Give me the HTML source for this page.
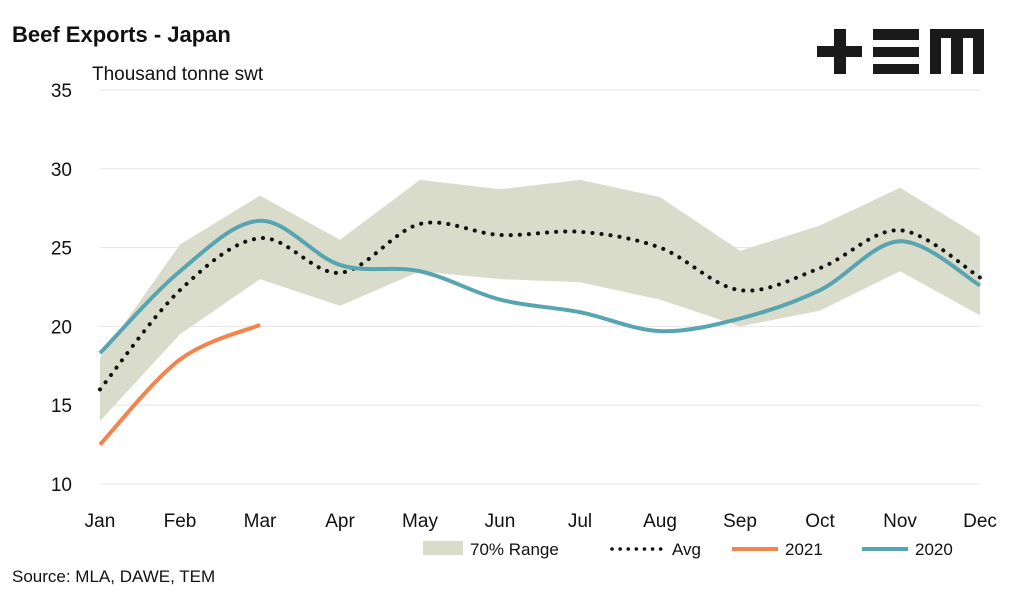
<!DOCTYPE html>
<html><head><meta charset="utf-8"><style>
body{margin:0;background:#fff;font-family:"Liberation Sans",sans-serif}
svg text{font-family:"Liberation Sans",sans-serif}
</style></head><body>
<svg id="c" width="1024" height="588" xmlns="http://www.w3.org/2000/svg">
<text x="12" y="42" font-size="22" font-weight="bold" fill="#111">Beef Exports - Japan</text>
<text x="92" y="80" font-size="19" fill="#111">Thousand tonne swt</text>
<g fill="#1a1a1a">
<rect x="817" y="46" width="45" height="11"/><rect x="834" y="29" width="12" height="45"/>
<rect x="873" y="29" width="46" height="11"/><rect x="873" y="47" width="46" height="10"/><rect x="873" y="64" width="46" height="10"/>
<path d="M930 29H984V74H973V38H963V74H951V38H941V74H930Z"/>
</g>
<g id="grid"></g><g id="marks"></g><g id="axes"></g>
<g>
<rect x="423" y="541" width="40" height="14" fill="#d9dccb"/>
<text x="470" y="555" font-size="17" fill="#111">70% Range</text>
<line x1="612" y1="549" x2="664" y2="549" stroke="#111" stroke-width="3.5" stroke-dasharray="0.1 8" stroke-linecap="round"/>
<text x="672" y="555" font-size="17" fill="#111">Avg</text>
<line x1="732" y1="549" x2="778" y2="549" stroke="#f5844c" stroke-width="4"/>
<text x="785" y="555" font-size="17" fill="#111">2021</text>
<line x1="862" y1="549" x2="908" y2="549" stroke="#58a5b1" stroke-width="4"/>
<text x="915" y="555" font-size="17" fill="#111">2020</text>
</g>
<text x="12" y="582" font-size="17" fill="#111">Source: MLA, DAWE, TEM</text>
</svg>
<script>
const months=["Jan","Feb","Mar","Apr","May","Jun","Jul","Aug","Sep","Oct","Nov","Dec"];
const rangeUpper=[18.0,25.2,28.3,25.5,29.3,28.7,29.3,28.2,24.8,26.4,28.8,25.7];
const rangeLower=[14.0,19.5,23.0,21.3,23.5,23.0,22.8,21.7,20.0,21.0,23.5,20.7];
const avg=[16.0,22.3,25.6,23.4,26.5,25.8,26.0,25.0,22.3,23.7,26.1,23.1];
const s2020=[18.3,23.5,26.7,23.9,23.5,21.7,20.9,19.7,20.5,22.3,25.4,22.6];
const s2021=[12.5,17.9,20.1];
const yTicks=[10,15,20,25,30,35];
const NS="http://www.w3.org/2000/svg";
const x=i=>100+i*80;
const y=v=>484-(v-10)*(394/25);
function mk(tag,attrs,parent){const e=document.createElementNS(NS,tag);for(const k in attrs)e.setAttribute(k,attrs[k]);document.getElementById(parent).appendChild(e);return e;}
function smooth(vals){const p=vals.map((v,i)=>[x(i),y(v)]);let d=`M${p[0][0]},${p[0][1]}`;
for(let i=0;i<p.length-1;i++){const p0=p[i-1]||p[i],p1=p[i],p2=p[i+1],p3=p[i+2]||p2;const t=6;
d+=`C${p1[0]+(p2[0]-p0[0])/t},${p1[1]+(p2[1]-p0[1])/t} ${p2[0]-(p3[0]-p1[0])/t},${p2[1]-(p3[1]-p1[1])/t} ${p2[0]},${p2[1]}`;}return d;}
yTicks.forEach(v=>{
const g=mk('line',{x1:100,x2:980,y1:y(v),y2:y(v),stroke:'#e6e6e6','stroke-width':1},'grid');


const t=mk('text',{x:72,y:y(v)+7,'font-size':19,'text-anchor':'end',fill:'#111'},'axes');t.textContent=v;


});
months.forEach((m,i)=>{const t=mk('text',{x:x(i),y:527,'font-size':19,'text-anchor':'middle',fill:'#111'},'axes');t.textContent=m;

});
const pts=rangeUpper.map((v,i)=>x(i)+','+y(v)).concat(rangeLower.map((v,i)=>x(i)+','+y(v)).reverse());
const band=mk('polygon',{points:pts.join(' '),fill:'#d9dccb'},'marks');


const a=mk('path',{d:smooth(avg),fill:'none',stroke:'#111','stroke-width':4,'stroke-dasharray':'0.1 9','stroke-linecap':'round'},'marks');


const l21=mk('path',{d:smooth(s2021),fill:'none',stroke:'#f5844c','stroke-width':4},'marks');


const l20=mk('path',{d:smooth(s2020),fill:'none',stroke:'#58a5b1','stroke-width':4},'marks');


</script>
</body></html>
